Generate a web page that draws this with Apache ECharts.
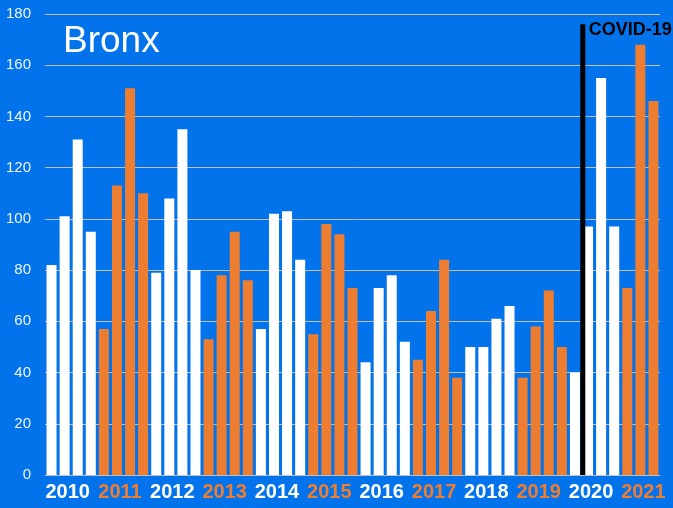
<!DOCTYPE html>
<html>
<head>
<meta charset="utf-8">
<script src="https://cdn.jsdelivr.net/npm/echarts@6/dist/echarts.min.js"></script>
<style>
  html, body { margin: 0; padding: 0; background: #0373EB; }
  #chart { width: 673px; height: 508px; }
</style>
</head>
<body>
<div id="chart"></div>
<script>
// quarterly counts per year (2021 only has 3 quarters)
const years = ['2010', '2011', '2012', '2013', '2014', '2015', '2016', '2017', '2018', '2019', '2020', '2021']
const q2010 = [82, 101, 131, 95]
const q2011 = [57, 113, 151, 110]
const q2012 = [79, 108, 135, 80]
const q2013 = [53, 78, 95, 76]
const q2014 = [57, 102, 103, 84]
const q2015 = [55, 98, 94, 73]
const q2016 = [44, 73, 78, 52]
const q2017 = [45, 64, 84, 38]
const q2018 = [50, 50, 61, 66]
const q2019 = [38, 58, 72, 50]
const q2020 = [40, 97, 155, 97]
const q2021 = [73, 168, 146]
const yTicks = [0, 20, 40, 60, 80, 100, 120, 140, 160, 180]

// covid marker sits between 2020 Q1 and Q2
const covidAt = 40.6
const covidTop = 176

const WHITE = '#FFFFFF'
const ORANGE = '#ED7D31'

const perYear = [q2010, q2011, q2012, q2013, q2014, q2015, q2016, q2017, q2018, q2019, q2020, q2021]
let categories = []
let barData = []
perYear.forEach((qs, yi) => {
  qs.forEach((v, qi) => {
    categories.push(years[yi] + '-Q' + (qi + 1))
    barData.push({ value: v, itemStyle: { color: yi % 2 === 0 ? WHITE : ORANGE } })
  })
})

const chart = echarts.init(document.getElementById('chart'))
chart.setOption({
  backgroundColor: '#0373EB',
  animation: false,
  textStyle: { fontFamily: 'Liberation Sans, Arial, sans-serif' },
  title: {
    text: 'Bronx',
    left: 58,
    top: 18,
    textStyle: { color: '#FFFFFF', fontSize: 37, fontWeight: 'normal', fontFamily: 'Liberation Sans, Arial, sans-serif' }
  },
  grid: { left: 45, right: 13, top: 14, bottom: 33, containLabel: false },
  xAxis: [
    {
      type: 'category',
      data: categories,
      axisTick: { show: false },
      axisLine: { lineStyle: { color: '#BFBFBF', width: 1 } },
      axisLabel: {
        interval: (i) => i % 4 === 1,
        margin: 7,
        formatter: (val) => {
          const y = val.slice(0, 4)
          return (years.indexOf(y) % 2 === 0 ? '{w|' : '{o|') + y + '}'
        },
        rich: {
          w: { color: WHITE, fontSize: 20, fontWeight: 'bold', padding: [0, 0, 0, 6] },
          o: { color: ORANGE, fontSize: 20, fontWeight: 'bold', padding: [0, 0, 0, 6] }
        }
      }
    },
    {
      type: 'value',
      min: -0.5,
      max: categories.length - 0.5,
      show: false
    }
  ],
  yAxis: {
    type: 'value',
    min: yTicks[0],
    max: yTicks[yTicks.length - 1],
    interval: 20,
    axisLine: { show: false },
    axisTick: { show: false },
    axisLabel: { color: '#EEF3FB', fontSize: 15, margin: 14 },
    splitLine: { lineStyle: { color: '#BFBFBF', width: 1 } }
  },
  series: [
    {
      type: 'bar',
      data: barData,
      barWidth: 10
    },
    {
      type: 'line',
      xAxisIndex: 1,
      data: [[covidAt, 0], [covidAt, covidTop]],
      symbol: 'none',
      z: 5,
      lineStyle: { color: '#000000', width: 5 },
      endLabel: {
        show: true,
        formatter: 'COVID-19',
        color: '#000000',
        fontSize: 18,
        fontWeight: 'bold',
        distance: 6,
        offset: [0, 6]
      }
    }
  ]
})
</script>
</body>
</html>
